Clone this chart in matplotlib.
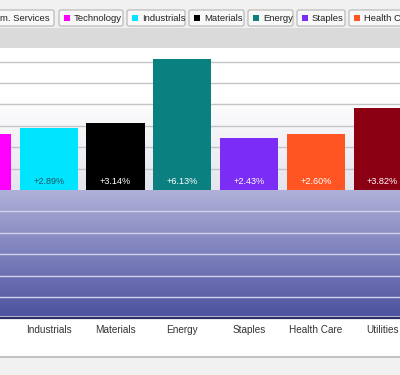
import matplotlib.pyplot as plt
import numpy as np
from matplotlib.colors import LinearSegmentedColormap
from matplotlib.patches import FancyBboxPatch, Rectangle

plt.rcParams['font.family'] = ['Liberation Sans', 'DejaVu Sans']

categories = ['Technology', 'Industrials', 'Materials', 'Energy', 'Staples', 'Health Care', 'Utilities']
values = [2.62, 2.89, 3.14, 6.13, 2.43, 2.60, 3.82]
bar_colors = ['#ff00ff', '#00e5ff', '#000000', '#0a8080', '#7b2cf5', '#ff5522', '#8b0012']
label_colors = ['white', '#1d5560', 'white', 'white', 'white', 'white', 'white']

legend_labels = ['Comm. Services', 'Technology', 'Industrials', 'Materials', 'Energy', 'Staples', 'Health Care']
legend_colors = ['#1f77b4', '#ff00ff', '#00e5ff', '#000000', '#0a8080', '#7b2cf5', '#ff5522']

W, H = 400, 375
fig = plt.figure(figsize=(4, 3.75), dpi=100, facecolor='white')

# main plot area (pixel rows 48..318)
top_px, bot_px = 48, 318
ax = fig.add_axes([0, 1 - bot_px / H, 1, (bot_px - top_px) / H])
x = np.arange(len(categories))
xlo, xhi = 0.27, 6.26
ylo, yhi = -5.98, 6.64

# background gradients
upper = LinearSegmentedColormap.from_list('u', ['#e4e4ee', '#f2f2f6', '#ffffff', '#ffffff'])
lower = LinearSegmentedColormap.from_list('l', ['#4c519e', '#7c80bb', '#b0b0d8'])
g = np.linspace(0, 1, 256).reshape(-1, 1)
ax.imshow(g, cmap=upper, aspect='auto', extent=[xlo, xhi, 0, yhi], origin='lower', zorder=0)
ax.imshow(g, cmap=lower, aspect='auto', extent=[xlo, xhi, ylo, 0], origin='lower', zorder=0)

for yv in range(1, 7):
    ax.axhline(yv, color='#c4c4c8', lw=1, zorder=1)
for yv in range(-5, 0):
    ax.axhline(yv, color='#d2d2ea', lw=1, zorder=1)
ax.axhline(-5.9, color='#c0c2e0', lw=0.8, zorder=1)

ax.bar(x, values, width=0.87, color=bar_colors, zorder=2)
for xi, v, c in zip(x, values, label_colors):
    ax.text(xi, 0.18, f'+{v:.2f}%', ha='center', va='bottom', fontsize=6.6, color=c, zorder=3)

ax.set_xticks(x)
ax.set_xticklabels(categories, fontsize=7.2, color='#333333')
ax.tick_params(axis='x', length=0, pad=5)
ax.set_yticks([])
ax.set_xlim(xlo, xhi)
ax.set_ylim(ylo, yhi)
for s in ['top', 'left', 'right']:
    ax.spines[s].set_visible(False)
ax.spines['bottom'].set_color('#2c2f62')
ax.spines['bottom'].set_linewidth(1.6)

# overlay in pixel coordinates for the legend bar and frame
ov = fig.add_axes([0, 0, 1, 1], zorder=5)
ov.set_xlim(0, W)
ov.set_ylim(H, 0)
ov.axis('off')
ov.patch.set_alpha(0)

ov.add_patch(Rectangle((0, 0), W, 28, color='#f0f0f0', lw=0))
ov.add_patch(Rectangle((0, 28), W, 20, color='#dadada', lw=0))
ov.add_patch(Rectangle((0, 356), W, 2, color='#c2c2c2', lw=0))
ov.add_patch(Rectangle((0, 358), W, 17, color='#f1f1f1', lw=0))

box_left = [-24, 59, 127, 189, 248, 297, 349]
box_right = [54, 123, 185, 244, 293, 345, 420]
for lab, col, l, r in zip(legend_labels, legend_colors, box_left, box_right):
    ov.add_patch(FancyBboxPatch((l, 10), r - l, 16, boxstyle='round,pad=0,rounding_size=2',
                                facecolor='#f8f8f8', edgecolor='#b4b4b4', lw=0.8))
    if lab == 'Comm. Services':
        ov.text(r - 4, 18.5, lab, ha='right', va='center', fontsize=6.8, color='#222222')
    else:
        ov.add_patch(Rectangle((l + 5, 15), 6, 6, color=col, lw=0))
        ov.text(l + 15, 18.5, lab, ha='left', va='center', fontsize=6.8, color='#222222')

fig.savefig('out.png', dpi=100)
